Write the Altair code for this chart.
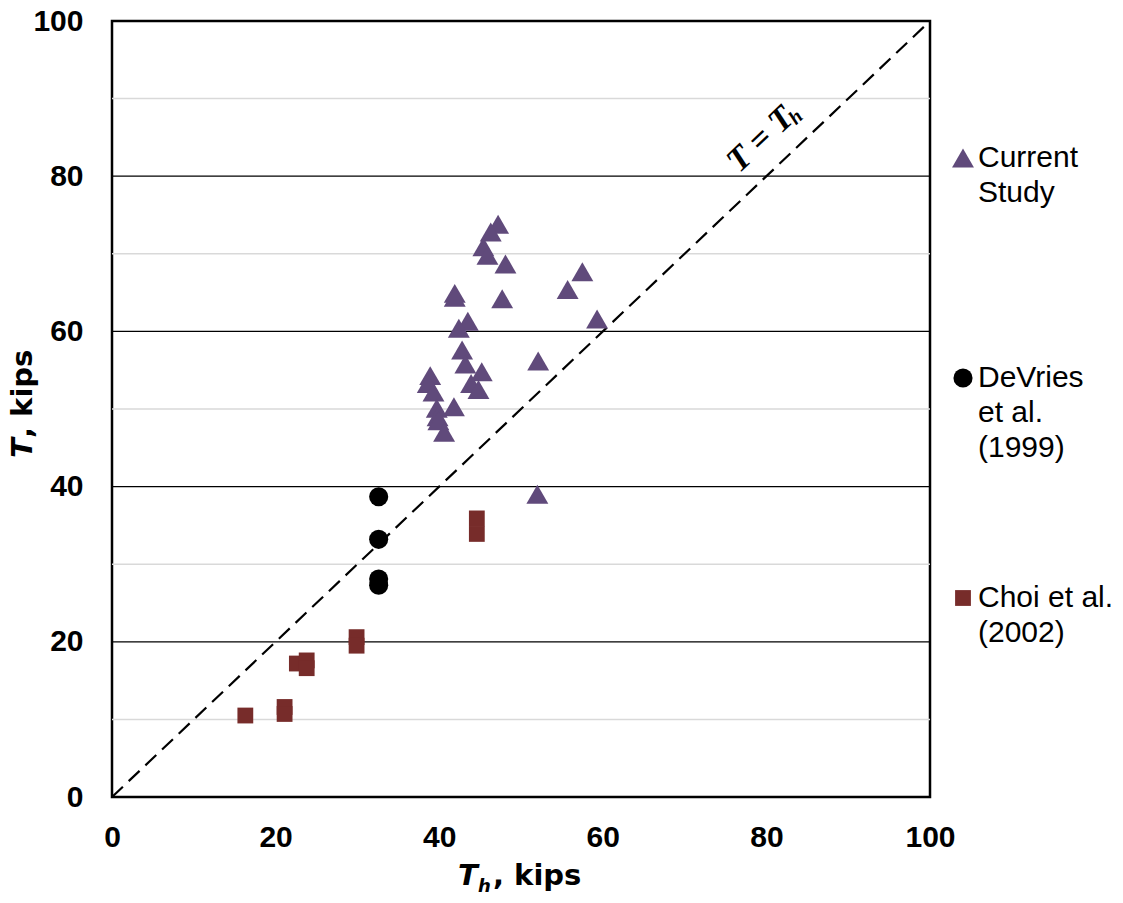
import altair as alt
import pandas as pd

# ---- data ----
cur_x = [47.2, 46.3, 45.4, 45.9, 48.1, 57.5, 55.7, 41.9, 41.9, 47.7, 59.3, 43.5, 42.4, 42.8,
         43.2, 52.1, 45.2, 38.9, 38.6, 43.9, 44.8, 39.3, 41.8, 39.7, 39.8, 39.9, 40.6, 52.0]
cur_y = [73.8, 72.8, 70.9, 69.8, 68.7, 67.7, 65.4, 64.9, 64.4, 64.2, 61.6, 61.3, 60.4, 57.6,
         55.8, 56.2, 54.8, 54.3, 53.3, 53.3, 52.5, 52.2, 50.3, 50.1, 49.0, 48.5, 47.0, 39.0]
dev_x = [32.6, 32.6, 32.6, 32.6]
dev_y = [38.7, 33.2, 28.1, 27.3]
choi_x = [44.6, 44.6, 29.9, 29.9, 22.6, 23.8, 23.8, 21.1, 21.1, 16.3]
choi_y = [35.9, 33.9, 20.6, 19.5, 17.2, 17.6, 16.6, 11.6, 10.7, 10.5]

series = ["Current Study", "DeVries et al. (1999)", "Choi et al. (2002)"]
colors = ["#604A7B", "#000000", "#772C2A"]
shapes = ["triangle-up", "circle", "square"]
sizes = [480, 250, 230]

major_y = [20, 40, 60, 80]
minor_y = [10, 30, 50, 70, 90]
diag = [0, 100]
ticks = [0, 20, 40, 60, 80, 100]

W, H = 818, 776

rows = []
for name, xs_, ys_ in [(series[0], cur_x, cur_y), (series[1], dev_x, dev_y), (series[2], choi_x, choi_y)]:
    for a, b in zip(xs_, ys_):
        rows.append({"Th": a, "T": b, "Series": name})
pts = pd.DataFrame(rows)

xs = alt.Scale(domain=[0, 100], nice=False, zero=False)
ys = alt.Scale(domain=[0, 100], nice=False, zero=False)

xaxis = alt.Axis(values=ticks, title=None, grid=False, domain=False, ticks=False,
                 labelFont="Liberation Sans", labelFontWeight="bold", labelFontSize=30,
                 labelColor="black", labelPadding=25, labelFlush=False)
yaxis = alt.Axis(values=ticks, title=None, grid=False, domain=False, ticks=False,
                 labelFont="Liberation Sans", labelFontWeight="bold", labelFontSize=30,
                 labelColor="black", labelPadding=29, labelFlush=False)

minor = alt.Chart(pd.DataFrame({"v": minor_y})).mark_rule(color="#D9D9D9", strokeWidth=1.5).encode(
    y=alt.Y("v:Q", scale=ys, axis=yaxis))

major = alt.Chart(pd.DataFrame({"v": major_y})).mark_rule(color="#000000", strokeWidth=1.3).encode(
    y=alt.Y("v:Q", scale=ys, axis=yaxis))

line = alt.Chart(pd.DataFrame({"a": diag, "b": diag})).mark_line(
    color="black", strokeWidth=2.2, strokeDash=[15, 8]).encode(
    x=alt.X("a:Q", scale=xs, axis=xaxis), y=alt.Y("b:Q", scale=ys, axis=yaxis))

label_expr = ("datum.label == 'Current Study' ? ['Current', 'Study', ''] : "
              "datum.label == 'DeVries et al. (1999)' ? ['DeVries', 'et al.', '(1999)'] : "
              "['Choi et al.', '(2002)']")

points = alt.Chart(pts).mark_point(filled=True, opacity=1).encode(
    x=alt.X("Th:Q", scale=xs, axis=xaxis),
    y=alt.Y("T:Q", scale=ys, axis=yaxis),
    color=alt.Color("Series:N", scale=alt.Scale(domain=series, range=colors),
                    legend=alt.Legend(title=None, orient="none", legendX=836, legendY=122,
                                      labelExpr=label_expr, labelFont="Liberation Sans",
                                      labelFontSize=30, labelColor="black",
                                      labelLimit=0, symbolSize=230, labelOffset=0,
                                      rowPadding=120, symbolStrokeWidth=0)),
    shape=alt.Shape("Series:N", scale=alt.Scale(domain=series, range=shapes)),
    size=alt.Size("Series:N", scale=alt.Scale(domain=series, range=sizes), legend=None),
)

def txt(s, x, y, size, style="italic", weight="bold", font="DejaVu Sans", align="left",
        angle=0, baseline="alphabetic"):
    return alt.Chart(pd.DataFrame({"s": [s]})).mark_text(
        font=font, fontSize=size, fontStyle=style, fontWeight=weight, align=align,
        baseline=baseline, angle=angle, color="black").encode(
        x=alt.value(x), y=alt.value(y), text="s:N")

# axis titles with italic symbol and subscript
xt1 = txt("T", 346, 864, 29)
xt2 = txt("h", 366, 871, 18)
xt3 = txt(", kips", 381, 864, 29, style="normal")
yt1 = txt("T", -80, 437, 29, angle=270)
yt2 = txt(", kips", -80, 417, 29, style="normal", angle=270)

# T = T_h annotation along the diagonal
ann = pd.DataFrame({"x": [79.3], "y": [84.7], "s": ["T = T"]})
ann1 = alt.Chart(ann).mark_text(font="Liberation Serif", fontSize=34, fontStyle="italic",
                                fontWeight="bold", angle=316.5, align="center",
                                baseline="middle", color="black").encode(
    x=alt.X("x:Q", scale=xs, axis=xaxis), y=alt.Y("y:Q", scale=ys, axis=yaxis), text="s:N")
ann_h = pd.DataFrame({"x": [83.6], "y": [87.6], "s": ["h"]})
ann2 = alt.Chart(ann_h).mark_text(font="Liberation Serif", fontSize=20, fontStyle="italic",
                                  fontWeight="bold", angle=316.5, align="center",
                                  baseline="middle", color="black").encode(
    x=alt.X("x:Q", scale=xs, axis=xaxis), y=alt.Y("y:Q", scale=ys, axis=yaxis), text="s:N")

chart = alt.layer(minor, major, line, points, ann1, ann2, xt1, xt2, xt3, yt1, yt2).properties(
    width=W, height=H,
    autosize=alt.AutoSizeParams(type="none"),
    padding={"left": 104, "top": 13, "right": 185, "bottom": 96},
    background="white",
).configure(
    style={"guide-label": {"lineHeight": 35}},
    view=alt.ViewConfig(stroke="black", strokeWidth=2.5),
)

chart.save("out.html", embed_options={"renderer": "svg", "actions": False})
